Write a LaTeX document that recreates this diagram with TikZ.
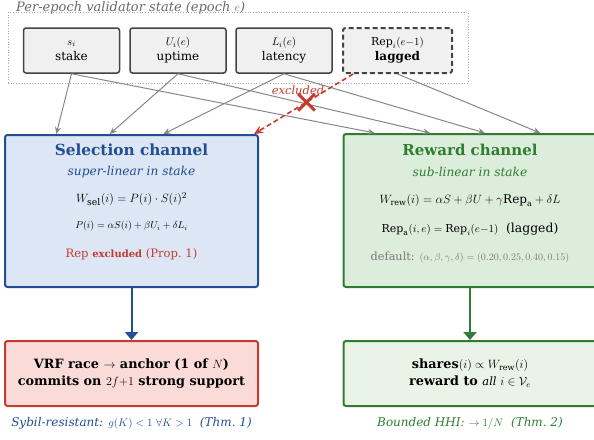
\documentclass[tikz,border=0pt]{standalone}
\usepackage{amsmath, amssymb}
\usepackage{fontspec}
\setmainfont{DejaVu Serif}
\usetikzlibrary{arrows.meta,calc}
\definecolor{selblue}{RGB}{33,78,148}
\definecolor{selfill}{RGB}{220,230,244}
\definecolor{rewgreen}{RGB}{46,125,50}
\definecolor{rewfill}{RGB}{221,237,219}
\definecolor{sharefill}{RGB}{233,244,231}
\definecolor{vrfred}{RGB}{196,60,48}
\definecolor{vrffill}{RGB}{250,219,216}
\definecolor{boxgray}{RGB}{68,68,68}
\definecolor{boxfill}{RGB}{240,240,240}
\definecolor{feedgray}{RGB}{135,135,135}
\newcommand{\fsz}[1]{\fontsize{#1}{1.25\dimexpr #1pt\relax}\selectfont}
\tikzset{
	valbox/.style={draw=boxgray, fill=boxfill, line width=1.5pt, rounded corners=2.5pt,
		minimum width=96pt, minimum height=45pt, inner sep=0pt, align=center, font=\fsz{12}},
	lagbox/.style={valbox, dash pattern=on 5pt off 3pt, line width=2pt, minimum width=109pt},
	chanbox/.style={line width=2pt, rounded corners=2.5pt, minimum width=253pt,
		minimum height=152pt, inner sep=0pt},
	outbox/.style={line width=2pt, rounded corners=2.5pt, minimum width=253pt,
		minimum height=65pt, inner sep=0pt, align=center, font=\bfseries\fontsize{12.8}{17}\selectfont},
	feed/.style={draw=feedgray, line width=1pt, -{Stealth[length=7pt,width=6pt]}},
	drop/.style={line width=2pt, -{Triangle[length=8pt,width=13pt]}},
}
\begin{document}
\begin{tikzpicture}[x=1pt, y=-1pt]
		\useasboundingbox (0,0) rectangle (594,439);
		% validator state
		\node (frame) [draw=feedgray!70, dotted, line width=0.7pt, minimum width=460pt,
			minimum height=71pt, inner sep=0pt] at (238,47.5) {};
		\node (ftitle) [anchor=base west, text=boxgray!80, font=\itshape\fsz{13}, inner sep=0pt]
			at (16,11.5) {Per-epoch validator state (epoch $e$)};
		\node (stake) [valbox] at (71.5,50.5)
			{{\fsz{11}$s_i$}\\ stake};
		\node (uptime) [valbox] at (178,50.5)
			{{\fsz{11}$U_i(e)$}\\ uptime};
		\node (latency) [valbox] at (284,50.5)
			{{\fsz{11}$L_i(e)$}\\ latency};
		\node (lagged) [lagbox] at (397.5,50.5)
			{{\fsz{11}$\mathrm{Rep}_i(e{-}1)$}\\ \textbf{lagged}};
		% channels
		\node (sel) [chanbox, draw=selblue, fill=selfill] at (131.5,211) {};
		\node (rew) [chanbox, draw=rewgreen, fill=rewfill, minimum height=153pt] at (470,210.5) {};
		\node (seltitle) [text=selblue, font=\bfseries\fsz{15.3}] at (131.5,150) {Selection channel};
		\node (selsub) [text=selblue, font=\itshape\fsz{12.2}] at (131.5,172) {super-linear in stake};
		\node (selw) [font=\fsz{13.2}] at (131.5,199) {$W_{\mathrm{sel}}(i) = P(i)\cdot S(i)^2$};
		\node (selp) [font=\fsz{10}] at (131.5,226) {$P(i) = \alpha S(i) + \beta U_i + \delta L_i$};
		\node (selrep) [text=vrfred, font=\fsz{11.6}] at (131.5,254)
			{Rep {\bfseries\fsz{10}excluded} (Prop.~1)};
		\node (rewtitle) [text=rewgreen, font=\bfseries\fsz{15}] at (470,150) {Reward channel};
		\node (rewsub) [text=rewgreen, font=\itshape\fsz{12.2}] at (470,172) {sub-linear in stake};
		\node (reww) [font=\fsz{12}] at (470,201)
			{$W_{\mathrm{rew}}(i) = \alpha S + \beta U + \gamma \mathrm{Rep}_{\mathrm{a}} + \delta L$};
		\node (rewrep) [font=\fsz{12.4}] at (470,229)
			{{\fsz{11}$\mathrm{Rep}_{\mathrm{a}}(i,e) = \mathrm{Rep}_i(e{-}1)$}\ \ (lagged)};
		\node (rewdef) [text=feedgray!90!black, font=\fsz{11.3}] at (470,257)
			{default: {\fsz{10.2}$(\alpha,\beta,\gamma,\delta) = (0.20, 0.25, 0.40, 0.15)$}};
		% outcomes
		\node (vrf) [outbox, draw=vrfred, fill=vrffill] at (131.5,373.5)
			{VRF race $\rightarrow$ anchor (1 of $N$)\\ commits on $2f{+}1$ strong support};
		\node (shares) [outbox, draw=rewgreen, fill=sharefill] at (470,373.5)
			{shares{\fsz{11.5}$(i) \propto W_{\mathrm{rew}}(i)$}\\ reward to \mdseries {\fsz{11.5}$\mathit{all}\ i \in \mathcal{V}_e$}};
		\node (selcap) [text=selblue, font=\itshape\fsz{12}] at (131.5,423)
			{Sybil-resistant: {\fsz{11}$g(K) < 1\ \forall K > 1$}\ \ (Thm.~1)};
		\node (rewcap) [text=rewgreen, font=\itshape\fsz{12}] at (470,423)
			{Bounded HHI: {\fsz{11}$\to 1/N$}\ \ (Thm.~2)};
		% feeds into channels
		\draw [feed] (stake.south) to ($(sel.north west)!0.205!(sel.north east)$);
		\draw [feed] (stake.south) to ($(rew.north west)!0.126!(rew.north east)$);
		\draw [feed] (uptime.south) to ($(sel.north west)!0.415!(sel.north east)$);
		\draw [feed] (uptime.south) to ($(rew.north west)!0.343!(rew.north east)$);
		\draw [feed] (latency.south) to ($(sel.north west)!0.625!(sel.north east)$);
		\draw [feed] (latency.south) to ($(rew.north west)!0.559!(rew.north east)$);
		\draw [feed] (lagged.south) to ($(rew.north west)!0.776!(rew.north east)$);
		\draw [draw=vrfred, line width=1.6pt, dash pattern=on 5pt off 3pt,
				-{Stealth[length=9pt,width=8pt]}]
			($(lagged.south west)!0.1!(lagged.south east)$) to
			node [pos=0.47, minimum size=15pt, inner sep=0pt] (xmark) {}
			([xshift=-5pt]sel.north east);
		\draw [draw=vrfred, line width=3pt] (xmark.north west) -- (xmark.south east)
			(xmark.north east) -- (xmark.south west);
		\node (exlabel) [text=vrfred, font=\itshape\fsz{11.5}] at (298,90) {excluded};
		% outputs
		\draw [drop, draw=selblue, fill=selblue] (sel) to (vrf);
		\draw [drop, draw=rewgreen, fill=rewgreen] (rew) to (shares);
	\end{tikzpicture}
\end{document}
